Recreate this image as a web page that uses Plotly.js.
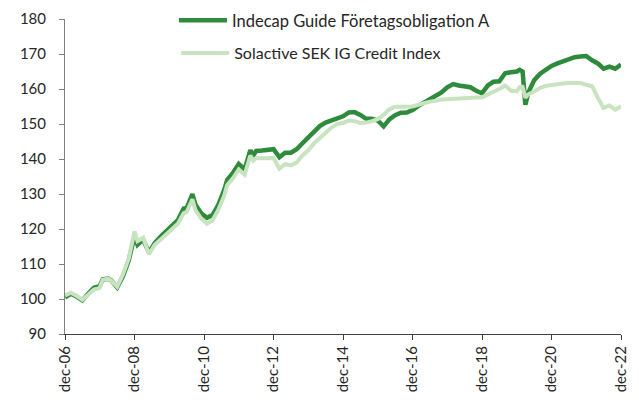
<!DOCTYPE html>
<html>
<head>
<meta charset="utf-8">
<script src="https://cdn.plot.ly/plotly-3.0.1.min.js"></script>
<style>html,body{margin:0;padding:0;background:#fff;}#chart{width:639px;height:400px;}</style>
</head>
<body>
<div id="chart"></div>
<script>
const dates = ["2006-12","2007-02","2007-04","2007-06","2007-08","2007-10","2007-12","2008-01","2008-03","2008-04","2008-06","2008-08","2008-10","2008-12","2009-01","2009-03","2009-05","2009-07","2009-09","2009-11","2010-01","2010-03","2010-05","2010-06","2010-08","2010-09","2010-11","2011-01","2011-03","2011-05","2011-07","2011-08","2011-10","2011-12","2012-02","2012-04","2012-05","2012-06","2012-08","2012-10","2012-12","2013-02","2013-04","2013-06","2013-08","2013-10","2013-12","2014-02","2014-04","2014-06","2014-08","2014-10","2014-12","2015-02","2015-04","2015-06","2015-08","2015-10","2015-12","2016-02","2016-04","2016-06","2016-08","2016-10","2016-12","2017-02","2017-04","2017-06","2017-08","2017-10","2017-12","2018-02","2018-04","2018-06","2018-08","2018-10","2018-12","2019-02","2019-04","2019-06","2019-08","2019-10","2019-12","2020-01","2020-02","2020-03","2020-04","2020-06","2020-08","2020-10","2020-12","2021-02","2021-04","2021-06","2021-08","2021-10","2021-12","2022-02","2022-04","2022-06","2022-08","2022-10","2022-12"];

const indecap = [100.5,101.5,100.7,99.6,101.5,103.2,103.7,105.6,105.8,105.3,103.3,106.5,111,118,115.5,117,113.3,116,117.8,119.3,120.8,122.5,125.8,125.9,130,127,124.5,123.2,124,126.9,131.1,134,136,138.6,137,142.5,141,142.3,142.4,142.7,142.8,140.5,141.8,141.8,142.8,144.5,146.2,148,149.4,150.4,151,151.5,152.2,153.3,153.4,152.6,151.5,151.5,151,149.3,151.3,152.5,153.2,153.3,154,155.2,156.2,157.3,158.2,159,160.5,161.4,161,160.8,160.5,159.5,158.8,161,162.1,162.2,164.5,164.8,165,165.5,165,155.5,159,162.5,164.3,165.5,166.6,167.3,168,168.6,169.1,169.3,169.4,168.2,167.3,165.8,166.4,165.8,167];

const solactive = [101,101.8,100.9,99.8,101.2,102.7,103.2,105.5,105.8,105.2,103.5,107,111.5,119.3,116.5,117.5,112.8,115.5,117,118.5,120,121.5,124.5,124.8,128.5,125.5,123,121.5,122.5,125.5,129.5,132.5,134.5,137,135.5,141,139.5,140.3,140.2,140.3,140.3,137.2,138.5,138.2,139,141,142.5,144.5,146,147.6,149,150,150.3,151,150.8,150.3,150.4,150.8,151.4,152.6,154.2,154.9,154.9,154.8,155,155.5,156,156.4,156.6,157,157.1,157.2,157.5,157.6,157.5,157.6,157.6,158.3,159.2,160,161,159.5,159.3,160.5,160.6,157.5,158.5,159.3,160.3,160.9,161.2,161.5,161.6,161.7,161.6,161.7,161.2,160.8,157.5,154.6,155.3,154.1,155];

const tickDates = ["2006-12-01","2008-12-01","2010-12-01","2012-12-01","2014-12-01","2016-12-01","2018-12-01","2020-12-01","2022-12-01"];
const tickLabels = ["dec-06","dec-08","dec-10","dec-12","dec-14","dec-16","dec-18","dec-20","dec-22"];
const yTicks = [90,100,110,120,130,140,150,160,170,180];

const font = "Lato, 'Open Sans', 'Liberation Sans', sans-serif";

const traces = [
  {x: dates, y: indecap, type: "scatter", mode: "lines", name: "Indecap Guide Företagsobligation A",
   line: {color: "#2e8b3b", width: 4.5}, legend: "legend"},
  {x: dates, y: solactive, type: "scatter", mode: "lines", name: "Solactive SEK IG Credit Index",
   line: {color: "#c8e3bf", width: 4}, legend: "legend2"}
];

const layout = {
  width: 639, height: 400,
  margin: {l: 65, r: 18, t: 19, b: 66, autoexpand: false},
  paper_bgcolor: "#fff", plot_bgcolor: "#fff",
  font: {family: font, size: 15, color: "#262626"},
  xaxis: {
    type: "date", range: ["2006-12-01", "2022-12-01"],
    tickmode: "array", tickvals: tickDates, ticktext: tickLabels,
    tickangle: -90, ticks: "outside", ticklen: 5, tickcolor: "#404040",
    showline: true, linecolor: "#404040", linewidth: 1,
    showgrid: false, zeroline: false, tickfont: {size: 15}
  },
  yaxis: {
    range: [90, 180], tickmode: "array", tickvals: yTicks,
    ticks: "outside", ticklen: 5, tickcolor: "#808080",
    showline: true, linecolor: "#808080", linewidth: 1,
    showgrid: false, zeroline: false, tickfont: {size: 15},
    ticklabelstandoff: 10
  },
  showlegend: true,
  legend: {x: 0.196, y: 0.9925, yref: "container", xanchor: "left", yanchor: "top", itemwidth: 48, bgcolor: "rgba(0,0,0,0)", font: {size: 16.5}},
  legend2: {x: 0.2, y: 0.91, yref: "container", xanchor: "left", yanchor: "top", itemwidth: 48, bgcolor: "rgba(0,0,0,0)", font: {size: 16}}
};

Plotly.newPlot("chart", traces, layout, {displayModeBar: false, staticPlot: true});
</script>
</body>
</html>
